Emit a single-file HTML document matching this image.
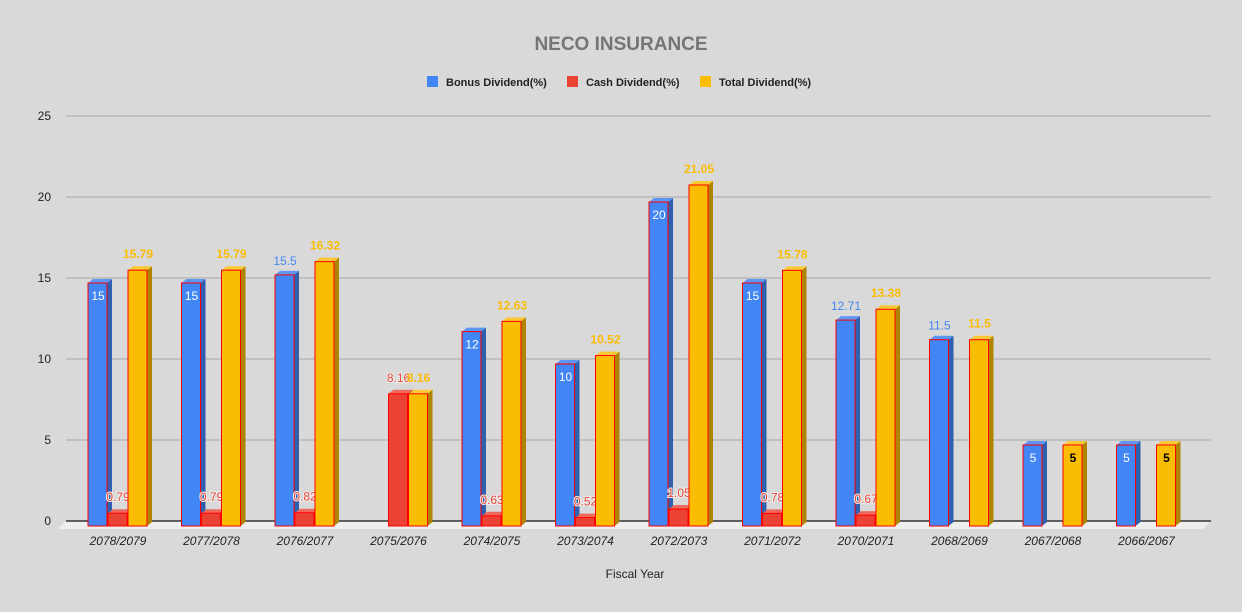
<!DOCTYPE html>
<html><head><meta charset="utf-8"><style>
body{margin:0;background:#d9d9d9;}
svg{display:block;font-family:"Liberation Sans",Arial,sans-serif;}
</style></head><body>
<svg id="s" width="1242" height="612" xmlns="http://www.w3.org/2000/svg">
<rect width="1242" height="612" fill="#d9d9d9"/>
<text x="621" y="50" text-anchor="middle" font-size="19" font-weight="bold" fill="#757575">NECO INSURANCE</text>
<rect x="427" y="76" width="11" height="11" fill="#4285f4"/>
<text x="446" y="86" font-size="11" font-weight="bold" fill="#222">Bonus Dividend(%)</text>
<rect x="567" y="76" width="11" height="11" fill="#ea4335"/>
<text x="586" y="86" font-size="11" font-weight="bold" fill="#222">Cash Dividend(%)</text>
<rect x="700" y="76" width="11" height="11" fill="#fbbc04"/>
<text x="719" y="86" font-size="11" font-weight="bold" fill="#222">Total Dividend(%)</text>
<g id="grid"></g>
<polygon points="66,521 1211,521 1203,529 58,529" fill="#eeeeee"/>
<line x1="66" y1="521" x2="1211" y2="521" stroke="#111" stroke-width="1.2"/>
<g id="bars"></g>
<text x="635" y="578" text-anchor="middle" font-size="12" fill="#222">Fiscal Year</text>
</svg>
<script>
var NS="http://www.w3.org/2000/svg";
function el(p,t,a,txt){var e=document.createElementNS(NS,t);for(var k in a)e.setAttribute(k,a[k]);if(txt!==undefined)e.textContent=txt;p.appendChild(e);return e;}
var g=document.getElementById('grid');
for(var i=0;i<=5;i++){var y=521-i*81;if(i>0)el(g,'line',{x1:66,y1:y,x2:1211,y2:y,stroke:'#a8a8a8','stroke-width':1});
el(g,'text',{x:51,y:y+4,'text-anchor':'end','font-size':12,fill:'#222'},String(i*5));}
var cats=["2078/2079","2077/2078","2076/2077","2075/2076","2074/2075","2073/2074","2072/2073","2071/2072","2070/2071","2068/2069","2067/2068","2066/2067"];
var B=[15,15,15.5,null,12,10,20,15,12.71,11.5,5,5];
var C=[0.79,0.79,0.82,8.16,0.63,0.52,1.05,0.78,0.67,null,null,null];
var T=[15.79,15.79,16.32,8.16,12.63,10.52,21.05,15.78,13.38,11.5,5,5];
var b=document.getElementById('bars');
var cols=[["#4285f4","#2f5fae","#5c95f5"],["#ea4335","#a83024","#ee6a5e"],["#fbbc04","#b08403","#fcc934"]];
function bar(x,v,k){var w=19,top=526-v*16.2,c=cols[k];
el(b,'polygon',{points:(x+w)+','+top+' '+(x+w+5)+','+(top-4)+' '+(x+w+5)+','+(526-4)+' '+(x+w)+','+526,fill:c[1]});
el(b,'polygon',{points:x+','+top+' '+(x+5)+','+(top-4)+' '+(x+w+5)+','+(top-4)+' '+(x+w)+','+top,fill:c[2]});
el(b,'rect',{x:x,y:top,width:w,height:526-top,fill:c[0],stroke:'#ff0000','stroke-width':1});return top;}
for(var i=0;i<12;i++){var c=118+i*93.5;
el(b,'text',{x:c,y:545,'text-anchor':'middle','font-size':12,'font-style':'italic',fill:'#222'},cats[i]);
if(B[i]!=null){var t=bar(c-30,B[i],0);var inside=[15,12,10,20,5].indexOf(B[i])>=0&&i!=2;
if(inside)el(b,'text',{x:c-20,y:t+17,'text-anchor':'middle','font-size':12,fill:'#fff'},String(B[i]));
else el(b,'text',{x:c-20,y:t-10,'text-anchor':'middle','font-size':12,fill:'#4285f4'},String(B[i]));}
if(C[i]!=null){var t=bar(c-10,C[i],1);el(b,'text',{x:c,y:t-12,'text-anchor':'middle','font-size':12,fill:'#ea4335',stroke:'#eeeeee','stroke-width':2,'paint-order':'stroke'},String(C[i]));}
if(T[i]!=null){var t=bar(c+10,T[i],2);
if(T[i]==5)el(b,'text',{x:c+20,y:t+17,'text-anchor':'middle','font-size':12,'font-weight':'bold',fill:'#000'},'5');
else el(b,'text',{x:c+20,y:t-12,'text-anchor':'middle','font-size':12,'font-weight':'bold',fill:'#fbbc04'},String(T[i]));}
}
</script>
</body></html>
